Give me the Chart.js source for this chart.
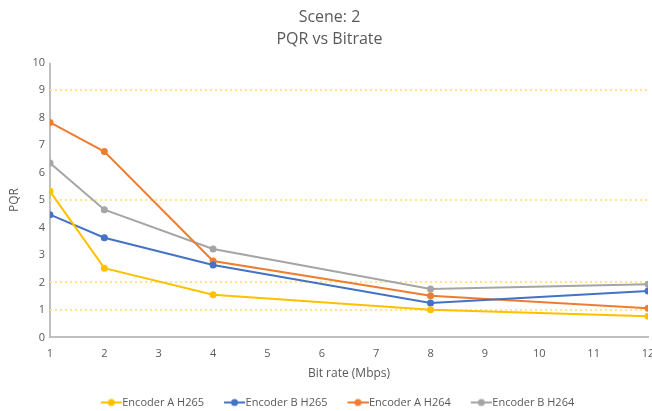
<!DOCTYPE html>
<html>
<head>
<meta charset="utf-8">
<script src="https://cdn.jsdelivr.net/npm/chart.js@4"></script>
<style>
  html, body { margin: 0; padding: 0; background: #fff; }
  #wrap { width: 652px; height: 411px; }
</style>
</head>
<body>
<div id="wrap"><canvas id="chart"></canvas></div>
<script>
// bit rates (Mbps) and PQR values
var bitrates = [1, 2, 4, 8, 12];
var encAH265 = [5.32, 2.52, 1.55, 1.01, 0.77];
var encBH265 = [4.47, 3.63, 2.64, 1.25, 1.69];
var encAH264 = [7.83, 6.77, 2.78, 1.52, 1.06];
var encBH264 = [6.35, 4.65, 3.22, 1.76, 1.94];
var seriesNames = ['Encoder A H265', 'Encoder B H265', 'Encoder A H264', 'Encoder B H264'];
var seriesColors = ['#FFC000', '#4472C4', '#ED7D31', '#A5A5A5'];
var thresholdLines = [1, 2, 5, 9];

function toPoints(values) {
    return values.map(function(v, i) { return { x: bitrates[i], y: v }; });
}

// legend marker: short line with a dot, sitting at the right of a wider box
// so that the items get more room between them
var markerBox = 32;
function legendMarker(color) {
    var w = markerBox + 10;
    var c = document.createElement('canvas');
    c.width = w; c.height = 10;
    var g = c.getContext('2d');
    g.strokeStyle = color;
    g.lineWidth = 2;
    g.beginPath(); g.moveTo(w - 21, 5); g.lineTo(w, 5); g.stroke();
    g.fillStyle = color;
    g.beginPath(); g.arc(w - 10.5, 5, 3.5, 0, Math.PI * 2); g.fill();
    return c;
}

var allValues = [encAH265, encBH265, encAH264, encBH264];
var datasets = allValues.map(function(vals, i) {
    return {
        label: seriesNames[i],
        data: toPoints(vals),
        borderColor: seriesColors[i],
        backgroundColor: seriesColors[i],
        borderWidth: 2,
        pointRadius: 3.5,
        pointHoverRadius: 3.5,
        pointBackgroundColor: seriesColors[i],
        pointBorderWidth: 0,
        tension: 0
    };
});

var textColor = '#595959';
var axisColor = '#BFBFBF';
var fontFamily = '"Open Sans", "Noto Sans", sans-serif';

new Chart(document.getElementById('chart').getContext('2d'), {
    type: 'line',
    data: { datasets: datasets },
    options: {
        responsive: true,
        maintainAspectRatio: false,
        animation: false,
        layout: { padding: { left: 7, right: 0, top: 4, bottom: -7 } },
        plugins: {
            title: {
                display: true,
                text: ['Scene: 2', 'PQR vs Bitrate'],
                color: textColor,
                font: { family: fontFamily, size: 16, weight: 'normal', lineHeight: 1.4 },
                padding: { top: 2, bottom: 12 }
            },
            legend: {
                position: 'bottom',
                labels: {
                    color: textColor,
                    font: { family: fontFamily, size: 11 },
                    usePointStyle: true,
                    pointStyleWidth: markerBox,
                    padding: 4,
                    generateLabels: function(chart) {
                        return chart.data.datasets.map(function(ds, i) {
                            return {
                                text: ds.label,
                                fontColor: textColor,
                                pointStyle: legendMarker(ds.borderColor),
                                strokeStyle: ds.borderColor,
                                fillStyle: ds.borderColor,
                                lineWidth: 0,
                                datasetIndex: i
                            };
                        });
                    }
                }
            },
            tooltip: { enabled: false }
        },
        scales: {
            x: {
                type: 'linear',
                min: 1,
                max: 12,
                afterFit: function(scale) { scale.paddingRight = 4; },
                ticks: { stepSize: 1, color: textColor, font: { family: fontFamily, size: 11 }, padding: 10 },
                grid: {
                    drawTicks: false,
                    lineWidth: 2,
                    // only the line at x=1 is drawn: it stands for the value axis
                    color: function(ctx) {
                        return ctx.tick && ctx.tick.value === 1 ? axisColor : 'rgba(0,0,0,0)';
                    }
                },
                border: { display: true, color: axisColor, width: 2 },
                title: {
                    display: true,
                    text: 'Bit rate (Mbps)',
                    color: textColor,
                    font: { family: fontFamily, size: 12 },
                    padding: { top: -4, bottom: 12 }
                }
            },
            y: {
                min: 0,
                max: 10,
                ticks: { stepSize: 1, color: textColor, font: { family: fontFamily, size: 11 }, padding: 5 },
                grid: {
                    drawTicks: false,
                    lineWidth: 2,
                    color: function(ctx) {
                        return thresholdLines.indexOf(ctx.tick && ctx.tick.value) >= 0 ? '#FFE38F' : 'rgba(0,0,0,0)';
                    }
                },
                border: { display: false, dash: [2, 3] },
                title: {
                    display: true,
                    text: 'PQR',
                    color: textColor,
                    font: { family: fontFamily, size: 12 },
                    padding: { top: 0, bottom: 6 }
                }
            }
        }
    }
});
</script>
</body>
</html>
